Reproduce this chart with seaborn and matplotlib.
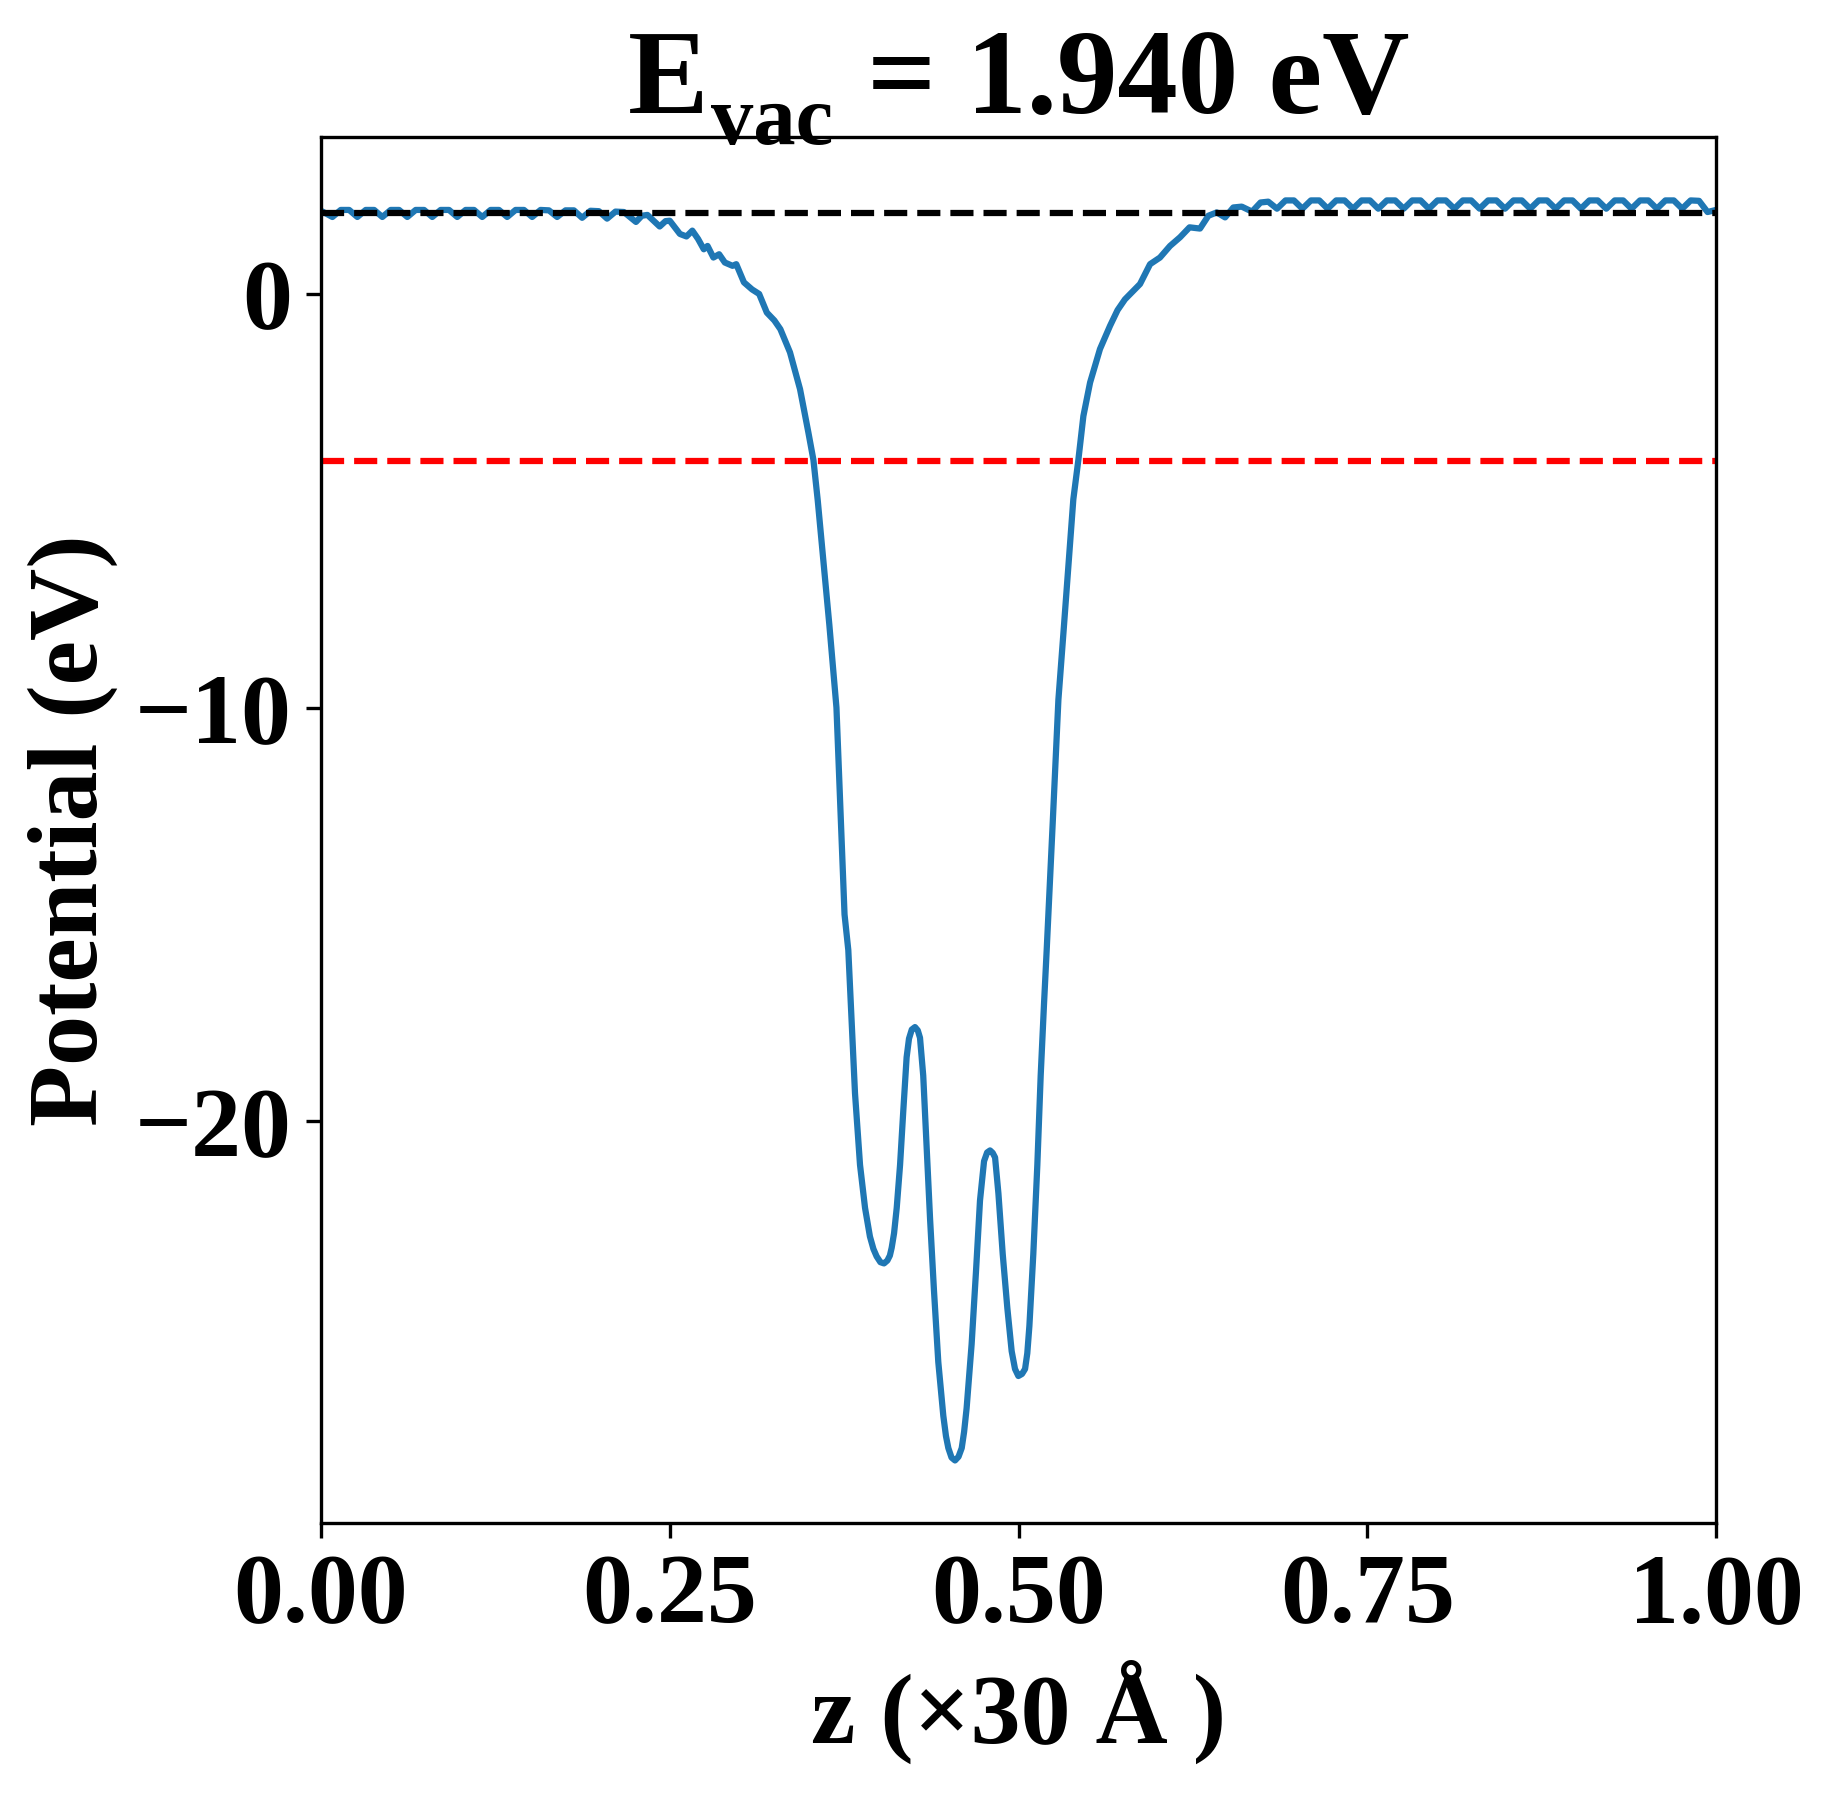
import matplotlib
matplotlib.use("Agg")
import matplotlib.pyplot as plt
import seaborn as sns
import numpy as np
import pandas as pd

# ---------------- data ----------------
E_VAC = 1.940
E_FERMI = -4.05

z_vac_left = [0.0000,
              0.0082, 0.0142, 0.0202, 0.0261, 0.0321, 0.0381, 0.0440, 0.0500, 0.0560,
              0.0619, 0.0679, 0.0739, 0.0798, 0.0858, 0.0918, 0.0977, 0.1037, 0.1097,
              0.1156, 0.1216, 0.1276, 0.1335, 0.1395, 0.1455, 0.1514, 0.1574, 0.1634,
              0.1693, 0.1753, 0.1813, 0.1872, 0.1932, 0.1992, 0.2051, 0.2111, 0.2171]
v_vac_left = [2.00,
              1.85, 2.02, 2.02, 1.85, 2.02, 2.02, 1.85, 2.02, 2.02,
              1.85, 2.02, 2.02, 1.85, 2.02, 2.02, 1.85, 2.02, 2.02,
              1.85, 2.02, 2.02, 1.85, 2.02, 2.02, 1.85, 2.02, 2.01,
              1.85, 2.01, 2.01, 1.83, 2.00, 1.99, 1.81, 1.98, 1.97]

z_slope_left = [0.2258, 0.2300, 0.2340, 0.2428, 0.2470, 0.2500, 0.2573, 0.2620, 0.2662,
                0.2703, 0.2744, 0.2771, 0.2813, 0.2854, 0.2895, 0.2950, 0.2977, 0.3032,
                0.3090, 0.3141, 0.3196, 0.3250, 0.3293, 0.3362, 0.3434, 0.3494, 0.3530,
                0.3561, 0.3600, 0.3644, 0.3695, 0.3725, 0.3753]
v_slope_left = [1.73, 1.88, 1.90, 1.62, 1.75, 1.76, 1.44, 1.38, 1.52,
                1.32, 1.07, 1.15, 0.87, 0.95, 0.75, 0.67, 0.71, 0.27,
                0.10, -0.01, -0.46, -0.65, -0.86, -1.42, -2.31, -3.36, -4.02,
                -5.00, -6.40, -8.00, -10.00, -12.60, -15.00]

z_well = [0.3780, 0.3804, 0.3828, 0.3864, 0.3900, 0.3935, 0.3960, 0.3983, 0.4010,
          0.4036, 0.4060, 0.4078, 0.4091, 0.4108, 0.4127, 0.4151, 0.4174, 0.4198,
          0.4215, 0.4235, 0.4258, 0.4278, 0.4294, 0.4317, 0.4341, 0.4366, 0.4394,
          0.4425, 0.4461, 0.4480, 0.4497, 0.4520, 0.4545, 0.4570, 0.4593, 0.4610,
          0.4628, 0.4664, 0.4695, 0.4724, 0.4753, 0.4775, 0.4796, 0.4815, 0.4832,
          0.4856, 0.4887, 0.4920, 0.4951, 0.4975, 0.4999, 0.5025, 0.5047, 0.5063,
          0.5078, 0.5106, 0.5135, 0.5159, 0.5183, 0.5202]
v_well = [-15.86, -17.59, -19.32, -21.05, -22.09, -22.78, -23.08, -23.26, -23.40,
          -23.43, -23.36, -23.24, -23.05, -22.70, -22.09, -21.05, -19.75, -18.45,
          -18.00, -17.78, -17.72, -17.80, -17.98, -18.89, -20.61, -22.35, -24.08,
          -25.81, -27.11, -27.60, -27.89, -28.12, -28.19, -28.10, -27.89, -27.50,
          -26.93, -25.38, -23.64, -21.91, -20.96, -20.75, -20.70, -20.76, -20.87,
          -21.74, -23.21, -24.51, -25.55, -25.98, -26.15, -26.10, -25.98, -25.60,
          -24.94, -23.21, -21.05, -18.89, -17.15, -15.86]

z_slope_right = [0.5245, 0.5286, 0.5322, 0.5357, 0.5393, 0.5429, 0.5465, 0.5513, 0.5584,
                 0.5656, 0.5710, 0.5763, 0.5871, 0.5943, 0.6014, 0.6086, 0.6158, 0.6226,
                 0.6301, 0.6361, 0.6421, 0.6481, 0.6540, 0.6600, 0.6674, 0.6735, 0.6790]
v_slope_right = [-12.80, -9.81, -8.20, -6.59, -4.97, -4.02, -2.96, -2.15, -1.34,
                 -0.78, -0.40, -0.14, 0.23, 0.71, 0.87, 1.15, 1.36, 1.60,
                 1.57, 1.88, 1.96, 1.84, 2.08, 2.10, 1.98, 2.20, 2.22]

z_vac_right = [0.6853, 0.6914, 0.6974, 0.7035, 0.7096, 0.7156, 0.7216, 0.7277, 0.7337,
               0.7398, 0.7459, 0.7519, 0.7579, 0.7640, 0.7700, 0.7761, 0.7822, 0.7882,
               0.7942, 0.8003, 0.8063, 0.8124, 0.8185, 0.8245, 0.8305, 0.8366, 0.8426,
               0.8487, 0.8548, 0.8608, 0.8668, 0.8729, 0.8789, 0.8850, 0.8911, 0.8971,
               0.9031, 0.9092, 0.9152, 0.9213, 0.9274, 0.9334, 0.9394, 0.9455, 0.9515,
               0.9576, 0.9637, 0.9697, 0.9757, 0.9818, 0.9878, 0.9939, 1.0000]
v_vac_right = [2.05, 2.25, 2.25, 2.05, 2.25, 2.25, 2.05, 2.25, 2.25,
               2.05, 2.25, 2.25, 2.05, 2.25, 2.25, 2.05, 2.25, 2.25,
               2.05, 2.25, 2.25, 2.05, 2.25, 2.25, 2.05, 2.25, 2.25,
               2.05, 2.25, 2.25, 2.05, 2.25, 2.25, 2.05, 2.25, 2.25,
               2.05, 2.25, 2.25, 2.05, 2.25, 2.25, 2.05, 2.25, 2.25,
               2.05, 2.25, 2.25, 2.05, 2.25, 2.24, 1.97, 2.02]

x_ticks = [0.00, 0.25, 0.50, 0.75, 1.00]
x_tick_labels = ["0.00", "0.25", "0.50", "0.75", "1.00"]

title_main = "E"
title_sub = "vac"
title_rest = " = %.3f eV" % E_VAC
x_label = "z (×30 Å )"
y_label = "Potential (eV)"

# ---------------- styling ----------------
plt.rcParams["font.family"] = ["Liberation Serif", "DejaVu Serif"]
plt.rcParams["font.weight"] = "bold"
plt.rcParams["axes.unicode_minus"] = True

df = pd.DataFrame({
    "z": z_vac_left + z_slope_left + z_well + z_slope_right + z_vac_right,
    "V": v_vac_left + v_slope_left + v_well + v_slope_right + v_vac_right,
})

W, H = 1833, 1794
fig = plt.figure(figsize=(W / 300, H / 300), dpi=300)
ax = fig.add_axes([0.1751, 0.1508, 0.9362 - 0.1751, 0.9234 - 0.1508])

sns.lineplot(data=df, x="z", y="V", ax=ax, color="#1f77b4", linewidth=1.5,
             sort=False, estimator=None)
ax.axhline(E_VAC, color="k", linestyle="--", linewidth=1.5)
ax.axhline(E_FERMI, color="r", linestyle="--", linewidth=1.5)

ax.set_xlim(0, 1)
ax.set_xticks(x_ticks)
ax.set_xticklabels(x_tick_labels)
ax.set_yticks([0, -10, -20])

ax.tick_params(axis="both", labelsize=24)
for lab in ax.get_xticklabels() + ax.get_yticklabels():
    lab.set_fontweight("bold")

ax.set_xlabel(x_label, fontsize=24, fontweight="bold")
ax.set_ylabel(y_label, fontsize=24, fontweight="bold")

# ---- title with a lowered subscript, centred over the axes ----
fs_main = 29
fs_sub = fs_main * 0.7
baseline_px = 113          # from top
sub_drop_px = 31
y_base = 1 - baseline_px / H
y_sub = 1 - (baseline_px + sub_drop_px) / H

t1 = fig.text(0, y_base, title_main, fontsize=fs_main, fontweight="bold",
              ha="left", va="baseline")
t2 = fig.text(0, y_sub, title_sub, fontsize=fs_sub, fontweight="bold",
              ha="left", va="baseline")
t3 = fig.text(0, y_base, title_rest, fontsize=fs_main, fontweight="bold",
              ha="left", va="baseline")
fig.canvas.draw()
r = fig.canvas.get_renderer()
w1 = t1.get_window_extent(r).width
w2 = t2.get_window_extent(r).width
w3 = t3.get_window_extent(r).width
gap1 = 3
gap2 = 4
total = w1 + gap1 + w2 + gap2 + w3
ax_bb = ax.get_position()
cx = (ax_bb.x0 + ax_bb.x1) / 2 * W
x0 = cx - total / 2
t1.set_x(x0 / W)
t2.set_x((x0 + w1 + gap1) / W)
t3.set_x((x0 + w1 + gap1 + w2 + gap2) / W)

fig.savefig("out.png", dpi=300)
